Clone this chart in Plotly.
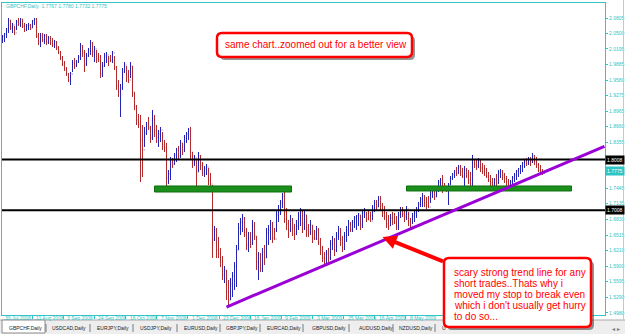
import plotly.graph_objects as go

# ---------------- data ----------------
symbol_title = "GBPCHF,Daily  1.7767 1.7780 1.7732 1.7775"
first_open = 2.0331

highs = [
 2.0469, 2.0509, 2.0608, 2.0805, 2.0766, 2.0707, 2.0647, 2.0766, 2.0805, 2.0805,
 2.0785, 2.0707, 2.0687, 2.0707, 2.0687, 2.0766, 2.0805, 2.0805, 2.0509, 2.0509,
 2.0509, 2.0489, 2.0489, 2.0449, 2.0449, 2.0410, 2.0371, 2.0351, 2.0252, 2.0153,
 2.0054, 1.9955, 1.9837, 1.9719, 1.9738, 1.9975, 2.0015, 1.9975, 2.0074, 2.0312,
 2.0272, 2.0173, 2.0114, 2.0213, 2.0371, 2.0331, 2.0252, 2.0173, 2.0114, 2.0074,
 1.9935, 2.0114, 2.0133, 2.0054, 2.0074, 2.0153, 2.0054, 1.9856, 1.9580, 1.9501,
 1.9817, 1.9935, 1.9856, 1.9778, 1.9935, 1.9856, 1.9343, 1.9086, 1.8908, 1.8888,
 1.8691, 1.8652, 1.8750, 1.8849, 1.8671, 1.8987, 1.8888, 1.8691, 1.8592, 1.8652,
 1.8552, 1.8395, 1.8336, 1.7802, 1.8059, 1.8039, 1.8138, 1.8237, 1.8276, 1.8395,
 1.8336, 1.8493, 1.8552, 1.8632, 1.8652, 1.8157, 1.8098, 1.7999, 1.8157, 1.8098,
 1.7959, 1.7881, 1.7920, 1.7842, 1.7743, 1.7505, 1.6695, 1.6656, 1.6478, 1.6261,
 1.6102, 1.5904, 1.5826, 1.5628, 1.5668, 1.5786, 1.5983, 1.6320, 1.6755, 1.6854,
 1.6933, 1.6873, 1.6656, 1.6576, 1.6576, 1.6814, 1.6774, 1.6497, 1.6181, 1.6162,
 1.6261, 1.6320, 1.6656, 1.6715, 1.6814, 1.6774, 1.6656, 1.7011, 1.7110, 1.7209,
 1.7348, 1.7466, 1.7051, 1.6814, 1.6913, 1.6854, 1.6735, 1.6814, 1.6971, 1.7051,
 1.7011, 1.7011, 1.6913, 1.6735, 1.6814, 1.6715, 1.6616, 1.6695, 1.6656, 1.6458,
 1.6300, 1.6181, 1.6221, 1.6261, 1.6419, 1.6497, 1.6458, 1.6576, 1.6695, 1.6656,
 1.6497, 1.6576, 1.6695, 1.6814, 1.6774, 1.6814, 1.6893, 1.6913, 1.6952, 1.6913,
 1.7011, 1.7051, 1.6971, 1.7011, 1.6971, 1.7110, 1.7209, 1.7209, 1.7288, 1.7288,
 1.7150, 1.7090, 1.6971, 1.6913, 1.6933, 1.6971, 1.6952, 1.6893, 1.6971, 1.7070,
 1.7070, 1.7011, 1.7090, 1.6971, 1.6854, 1.6952, 1.7011, 1.7070, 1.7169, 1.7268,
 1.7348, 1.7308, 1.7268, 1.7288, 1.7407, 1.7446, 1.7407, 1.7486, 1.7604, 1.7644,
 1.7703, 1.7545, 1.7486, 1.7545, 1.7683, 1.7743, 1.7802, 1.7861, 1.7900, 1.7900,
 1.7842, 1.7881, 1.7842, 1.7802, 1.7762, 1.8098, 1.8019, 1.7999, 1.8039, 1.7999,
 1.7940, 1.7900, 1.7842, 1.7762, 1.7703, 1.7644, 1.7644, 1.7723, 1.7802, 1.7821,
 1.7802, 1.7743, 1.7683, 1.7624, 1.7604, 1.7683, 1.7743, 1.7802, 1.7842, 1.7900,
 1.7959, 1.8019, 1.8039, 1.8059, 1.8059, 1.8138, 1.8098, 1.8059, 1.7940, 1.7900,
 1.7821, 1.7780,
]

lows = [
 2.0312, 2.0331, 2.0410, 2.0509, 2.0568, 2.0509, 2.0469, 2.0568, 2.0647, 2.0628,
 2.0608, 2.0529, 2.0548, 2.0568, 2.0568, 2.0608, 2.0667, 2.0410, 2.0272, 2.0233,
 2.0331, 2.0292, 2.0272, 2.0292, 2.0272, 2.0233, 2.0213, 2.0173, 2.0094, 1.9975,
 1.9856, 1.9758, 1.9659, 1.9540, 1.9481, 1.9738, 1.9797, 1.9837, 1.9916, 1.9975,
 2.0035, 1.9738, 1.9856, 2.0035, 2.0074, 2.0035, 1.9935, 1.9916, 1.9935, 1.9620,
 1.9640, 1.9837, 1.9916, 1.9856, 1.9935, 1.9916, 1.9778, 1.9383, 1.9245, 1.8849,
 1.9383, 1.9719, 1.9540, 1.9521, 1.9620, 1.9245, 1.8987, 1.8691, 1.8632, 1.7564,
 1.7664, 1.8257, 1.8493, 1.8592, 1.8336, 1.8395, 1.8454, 1.8336, 1.8257, 1.8355,
 1.8197, 1.8157, 1.7407, 1.7525, 1.7604, 1.7842, 1.7900, 1.7959, 1.7999, 1.8039,
 1.8098, 1.8157, 1.8336, 1.8395, 1.7999, 1.7842, 1.7881, 1.7466, 1.7762, 1.7802,
 1.7683, 1.7664, 1.7703, 1.7505, 1.7466, 1.6063, 1.6399, 1.6063, 1.6063, 1.5885,
 1.5628, 1.5569, 1.5233, 1.5114, 1.5233, 1.5292, 1.5431, 1.5490, 1.6221, 1.6518,
 1.6576, 1.6478, 1.6221, 1.6181, 1.6261, 1.6320, 1.6419, 1.5826, 1.5628, 1.5786,
 1.5786, 1.5924, 1.6063, 1.6320, 1.6419, 1.6360, 1.6419, 1.6576, 1.6774, 1.6913,
 1.7051, 1.6755, 1.6616, 1.6458, 1.6576, 1.6497, 1.6419, 1.6518, 1.6616, 1.6695,
 1.6557, 1.6616, 1.6478, 1.6478, 1.6518, 1.6360, 1.6419, 1.6419, 1.6320, 1.6122,
 1.5983, 1.5904, 1.5924, 1.5983, 1.6023, 1.6221, 1.6102, 1.6181, 1.6419, 1.6300,
 1.6181, 1.6221, 1.6379, 1.6497, 1.6576, 1.6576, 1.6656, 1.6616, 1.6695, 1.6616,
 1.6656, 1.6854, 1.6774, 1.6814, 1.6774, 1.6814, 1.6971, 1.7011, 1.7070, 1.7011,
 1.6873, 1.6814, 1.6656, 1.6616, 1.6695, 1.6715, 1.6735, 1.6616, 1.6616, 1.6854,
 1.6873, 1.6774, 1.6814, 1.6695, 1.6636, 1.6735, 1.6774, 1.6854, 1.6971, 1.7070,
 1.7070, 1.7070, 1.7031, 1.7051, 1.7150, 1.7249, 1.7209, 1.7268, 1.7367, 1.7407,
 1.7348, 1.7407, 1.7367, 1.7110, 1.7505, 1.7604, 1.7644, 1.7683, 1.7723, 1.7683,
 1.7644, 1.7466, 1.7644, 1.7525, 1.7466, 1.7486, 1.7842, 1.7802, 1.7842, 1.7762,
 1.7723, 1.7683, 1.7644, 1.7564, 1.7486, 1.7446, 1.7466, 1.7446, 1.7525, 1.7644,
 1.7604, 1.7545, 1.7486, 1.7446, 1.7466, 1.7486, 1.7564, 1.7604, 1.7664, 1.7723,
 1.7762, 1.7842, 1.7881, 1.7900, 1.7881, 1.7940, 1.7900, 1.7842, 1.7762, 1.7723,
 1.7703, 1.7732,
]

closes = [
 2.0449, 2.0489, 2.0588, 2.0766, 2.0608, 2.0667, 2.0509, 2.0726, 2.0687, 2.0785,
 2.0647, 2.0568, 2.0647, 2.0667, 2.0608, 2.0746, 2.0785, 2.0449, 2.0331, 2.0449,
 2.0371, 2.0449, 2.0331, 2.0410, 2.0312, 2.0272, 2.0331, 2.0213, 2.0133, 2.0015,
 1.9896, 1.9797, 1.9699, 1.9580, 1.9699, 1.9916, 1.9856, 1.9935, 2.0035, 2.0252,
 2.0114, 1.9896, 2.0054, 2.0173, 2.0312, 2.0133, 2.0193, 2.0015, 1.9975, 1.9699,
 1.9856, 2.0054, 2.0074, 2.0015, 1.9975, 2.0114, 1.9837, 1.9461, 1.9343, 1.9422,
 1.9738, 1.9876, 1.9640, 1.9580, 1.9856, 1.9343, 1.9066, 1.8790, 1.8711, 1.8395,
 1.8197, 1.8533, 1.8671, 1.8632, 1.8434, 1.8829, 1.8592, 1.8454, 1.8513, 1.8592,
 1.8296, 1.8237, 1.7644, 1.7723, 1.7999, 1.7920, 1.8098, 1.8197, 1.8078, 1.8336,
 1.8197, 1.8434, 1.8513, 1.8592, 1.8157, 1.7959, 1.8039, 1.7762, 1.8078, 1.7900,
 1.7762, 1.7821, 1.7861, 1.7604, 1.7525, 1.6419, 1.6616, 1.6221, 1.6142, 1.5983,
 1.5727, 1.5826, 1.5391, 1.5233, 1.5549, 1.5707, 1.5904, 1.6221, 1.6656, 1.6774,
 1.6854, 1.6576, 1.6320, 1.6458, 1.6340, 1.6695, 1.6497, 1.5983, 1.6063, 1.5865,
 1.6181, 1.6063, 1.6557, 1.6616, 1.6735, 1.6458, 1.6439, 1.6913, 1.7011, 1.7150,
 1.7288, 1.6971, 1.6735, 1.6616, 1.6814, 1.6656, 1.6537, 1.6695, 1.6893, 1.6971,
 1.6735, 1.6913, 1.6616, 1.6576, 1.6715, 1.6458, 1.6439, 1.6616, 1.6379, 1.6221,
 1.6063, 1.5944, 1.6142, 1.6063, 1.6340, 1.6419, 1.6221, 1.6497, 1.6616, 1.6419,
 1.6261, 1.6497, 1.6616, 1.6735, 1.6636, 1.6774, 1.6854, 1.6893, 1.6913, 1.6735,
 1.6952, 1.7011, 1.6834, 1.6814, 1.6794, 1.7051, 1.7150, 1.7070, 1.7229, 1.7110,
 1.6952, 1.6893, 1.6735, 1.6695, 1.6854, 1.6774, 1.6755, 1.6675, 1.6913, 1.7011,
 1.6933, 1.6873, 1.7031, 1.6774, 1.6695, 1.6893, 1.6952, 1.7031, 1.7130, 1.7229,
 1.7288, 1.7130, 1.7090, 1.7070, 1.7348, 1.7407, 1.7268, 1.7446, 1.7564, 1.7604,
 1.7446, 1.7427, 1.7407, 1.7505, 1.7644, 1.7723, 1.7782, 1.7743, 1.7861, 1.7762,
 1.7683, 1.7802, 1.7703, 1.7604, 1.7525, 1.7999, 1.7920, 1.7881, 1.7979, 1.7842,
 1.7782, 1.7743, 1.7683, 1.7604, 1.7545, 1.7505, 1.7604, 1.7545, 1.7743, 1.7782,
 1.7683, 1.7624, 1.7564, 1.7505, 1.7564, 1.7644, 1.7703, 1.7782, 1.7821, 1.7881,
 1.7940, 1.7979, 1.7940, 1.8019, 1.7979, 1.8078, 1.7979, 1.7900, 1.7802, 1.7782,
 1.7767, 1.7775,
]

price_ticks = [2.0805, 2.0500, 2.0195, 1.9885, 1.9580, 1.9275, 1.8965, 1.8660,
               1.8355, 1.7445, 1.7135, 1.6830, 1.6515, 1.6210,
               1.5900, 1.5595, 1.5290, 1.4980]
date_labels = ["30 Jul 2008", "11 Aug 2008", "3 Sep 2008", "24 Sep 2008",
               "16 Oct 2008", "7 Nov 2008", "1 Dec 2008", "23 Dec 2008",
               "16 Jan 2009", "9 Feb 2009", "3 Mar 2009", "25 Mar 2009",
               "16 Apr 2009", "8 May 2009"]
level_lines = [1.8008, 1.7008]
last_price = 1.7775
# support zones: (first bar, last bar, bottom price, top price)
support_zones = [(76, 144.5, 1.7367, 1.7486), (202, 284.5, 1.7387, 1.7486)]
# trend line: (bar, price) -> (bar, price)
trend_line = (112, 1.5094, 301, 1.8269)
# arrow: tip (bar, price), tail (bar, price)
arrow_pts = (190, 1.6478, 221, 1.5984)
tab_labels = ["GBPCHF,Daily", "USDCAD,Daily", "EURJPY,Daily", "USDJPY,Daily",
              "EURUSD,Daily", "GBPJPY,Daily", "EURCAD,Daily", "GBPUSD,Daily",
              "AUDUSD,Daily", "NZDUSD,Daily", "U"]
note_top = "same chart..zoomed out for a better view"
note_bottom = ["scary strong trend line for any", "short trades..Thats why i",
               "moved my stop to break even", "which i don't usually get hurry",
               "to do so..."]

# ---------------- layout geometry ----------------
W, H = 625, 334
ML, MR, MT, MB = 2, 20, 3, 19
PW, PH = W - ML - MR, H - MT - MB
CYAN = "#33c4c4"
RED = "#ff0000"
FONT = "Liberation Sans, Arial, sans-serif"


def fx(px):
    return (px - ML) / PW


def fy(py):
    return (H - MB - py) / PH


def rrect(x0, y0, x1, y1, r):
    def P(a, b):
        return f"{fx(a):.5f},{fy(b):.5f}"
    return ("M" + P(x0 + r, y0) + " L" + P(x1 - r, y0) + " Q" + P(x1, y0) + " " + P(x1, y0 + r)
            + " L" + P(x1, y1 - r) + " Q" + P(x1, y1) + " " + P(x1 - r, y1)
            + " L" + P(x0 + r, y1) + " Q" + P(x0, y1) + " " + P(x0, y1 - r)
            + " L" + P(x0, y0 + r) + " Q" + P(x0, y0) + " " + P(x0 + r, y0) + " Z")


n = min(len(highs), len(lows), len(closes))
xs = list(range(n))
opens = [first_open] + closes[:n - 1]

fig = go.Figure()
fig.add_trace(go.Ohlc(
    x=xs, open=opens, high=highs[:n], low=lows[:n], close=closes[:n],
    increasing=dict(line=dict(color="#2424b4", width=1)),
    decreasing=dict(line=dict(color="#b02c2c", width=1)),
    tickwidth=0.3, hoverinfo="skip", showlegend=False,
))

shapes = []
# support zones (green)
for x0, x1, y0, y1 in support_zones:
    shapes.append(dict(type="rect", xref="x", yref="y", x0=x0, x1=x1, y0=y0, y1=y1,
                       fillcolor="#1b8f1b", line=dict(color="#0f6f0f", width=1), layer="above"))
# black horizontal levels
for lv in level_lines:
    shapes.append(dict(type="line", xref="paper", yref="y", x0=0, x1=1, y0=lv, y1=lv,
                       line=dict(color="#000000", width=2), layer="above"))
# trend line
shapes.append(dict(type="line", xref="x", yref="y", x0=trend_line[0], y0=trend_line[1],
                   x1=trend_line[2], y1=trend_line[3],
                   line=dict(color="#9a00d6", width=3), layer="above"))

# tab bar
shapes.append(dict(type="rect", xref="paper", yref="paper", x0=fx(0), x1=fx(W),
                   y0=fy(H), y1=fy(320), fillcolor="#eeeeee", line=dict(width=0), layer="above"))
shapes.append(dict(type="line", xref="paper", yref="paper", x0=fx(0), x1=fx(W),
                   y0=fy(320), y1=fy(320), line=dict(color="#a8a8a8", width=1), layer="above"))
shapes.append(dict(type="rect", xref="paper", yref="paper", x0=fx(2), x1=fx(45),
                   y0=fy(333), y1=fy(320), fillcolor="#ffffff",
                   line=dict(color="#8a8a8a", width=1), layer="above"))
tab_x = [7, 50, 95, 138, 182, 224, 265, 310, 357, 397, 440]
sep_x = [46, 90, 133, 177, 220, 260, 303, 349, 393, 435]
for sx in sep_x:
    shapes.append(dict(type="line", xref="paper", yref="paper", x0=fx(sx), x1=fx(sx),
                       y0=fy(324), y1=fy(332), line=dict(color="#7a7a7a", width=1), layer="above"))
# right window edge
shapes.append(dict(type="line", xref="paper", yref="paper", x0=fx(623.5), x1=fx(623.5),
                   y0=fy(0), y1=fy(320), line=dict(color="#c8c8c8", width=1), layer="above"))

# callout boxes: shadow then box
for (bx0, by0, bx1, by1) in [(217, 33, 412, 57), (444, 258, 591, 327)]:
    shapes.append(dict(type="path", xref="paper", yref="paper",
                       path=rrect(bx0 + 3, by0 + 3, bx1 + 3, by1 + 3, 5),
                       fillcolor="rgba(60,60,60,0.55)", line=dict(width=0), layer="above"))
    shapes.append(dict(type="path", xref="paper", yref="paper",
                       path=rrect(bx0, by0, bx1, by1, 5),
                       fillcolor="#ffffff", line=dict(color=RED, width=2.5), layer="above"))

annotations = []
# chart title
annotations.append(dict(text=symbol_title, xref="paper", yref="paper", x=fx(4), y=fy(6.5),
                        xanchor="left", yanchor="middle", showarrow=False,
                        font=dict(family=FONT, size=5, color=CYAN)))
# level price labels
for lv in level_lines:
    annotations.append(dict(text=f"{lv:.4f}", xref="paper", yref="y", x=1, y=lv,
                            xanchor="left", yanchor="middle", showarrow=False, bgcolor="#000000",
                            borderpad=1, font=dict(family=FONT, size=5, color="#ffffff")))
annotations.append(dict(text=f"{last_price:.4f}", xref="paper", yref="y", x=1, y=last_price,
                        xanchor="left", yanchor="middle", showarrow=False, bgcolor="#2ec4c4",
                        borderpad=1, font=dict(family=FONT, size=5, color="#ffffff")))
# date labels
date_step_px = 31.15
for k, lab in enumerate(date_labels):
    annotations.append(dict(text=lab, xref="paper", yref="paper", x=fx(3 + date_step_px * k),
                            y=fy(318), xanchor="left", yanchor="middle", showarrow=False,
                            font=dict(family=FONT, size=5, color=CYAN)))
date_ticks = [(1 + date_step_px * k - 2.5) / 2 for k in range(len(date_labels))]
# tabs
for tx, lab in zip(tab_x, tab_labels):
    annotations.append(dict(text=lab, xref="paper", yref="paper", x=fx(tx), y=fy(328),
                            xanchor="left", yanchor="middle", showarrow=False,
                            font=dict(family=FONT, size=5, color="#222222")))
annotations.append(dict(text="◂ ▸", xref="paper", yref="paper", x=fx(616), y=fy(328),
                        xanchor="center", yanchor="middle", showarrow=False,
                        font=dict(family="DejaVu Sans", size=6, color="#777777")))
# callout texts
annotations.append(dict(text=note_top, xref="paper", yref="paper", x=fx(223), y=fy(45),
                        xanchor="left", yanchor="middle", showarrow=False,
                        font=dict(family=FONT, size=10, color=RED)))
line_y = [272, 283, 294, 305, 316.5]
for ly, txt in zip(line_y, note_bottom):
    annotations.append(dict(text=txt, xref="paper", yref="paper", x=fx(452), y=fy(ly),
                            xanchor="left", yanchor="middle", showarrow=False,
                            font=dict(family=FONT, size=10, color=RED)))
# red arrow
annotations.append(dict(text="", xref="x", yref="y", x=arrow_pts[0], y=arrow_pts[1],
                        axref="x", ayref="y", ax=arrow_pts[2], ay=arrow_pts[3],
                        showarrow=True, arrowhead=2, arrowsize=0.7, arrowwidth=4,
                        arrowcolor=RED))

y_top = 2.1161 - 0.001976 * 3
y_bot = 2.1161 - 0.001976 * 315

# bar i lands on pixel column 2.5 + 2*i (crisp 1px lines)
fig.update_layout(
    width=W, height=H,
    margin=dict(l=ML, r=MR, t=MT, b=MB, pad=0),
    paper_bgcolor="#ffffff", plot_bgcolor="#ffffff",
    showlegend=False, hovermode=False,
    shapes=shapes, annotations=annotations,
    xaxis=dict(range=[-0.25, -0.25 + PW / 2], showgrid=False, zeroline=False,
               showline=True, mirror=True, linecolor=CYAN, linewidth=1,
               tickvals=date_ticks, ticks="outside", ticklen=3, tickcolor=CYAN,
               showticklabels=False, rangeslider=dict(visible=False), fixedrange=True,
               automargin=False),
    yaxis=dict(range=[y_bot, y_top], side="right", showgrid=False, zeroline=False,
               showline=True, mirror=True, linecolor=CYAN, linewidth=1,
               tickvals=price_ticks, ticktext=[f"{v:.4f}" for v in price_ticks],
               ticks="outside", ticklen=2, tickcolor=CYAN,
               tickfont=dict(family=FONT, size=5, color=CYAN), automargin=False),
)

fig.write_html("out.html")
